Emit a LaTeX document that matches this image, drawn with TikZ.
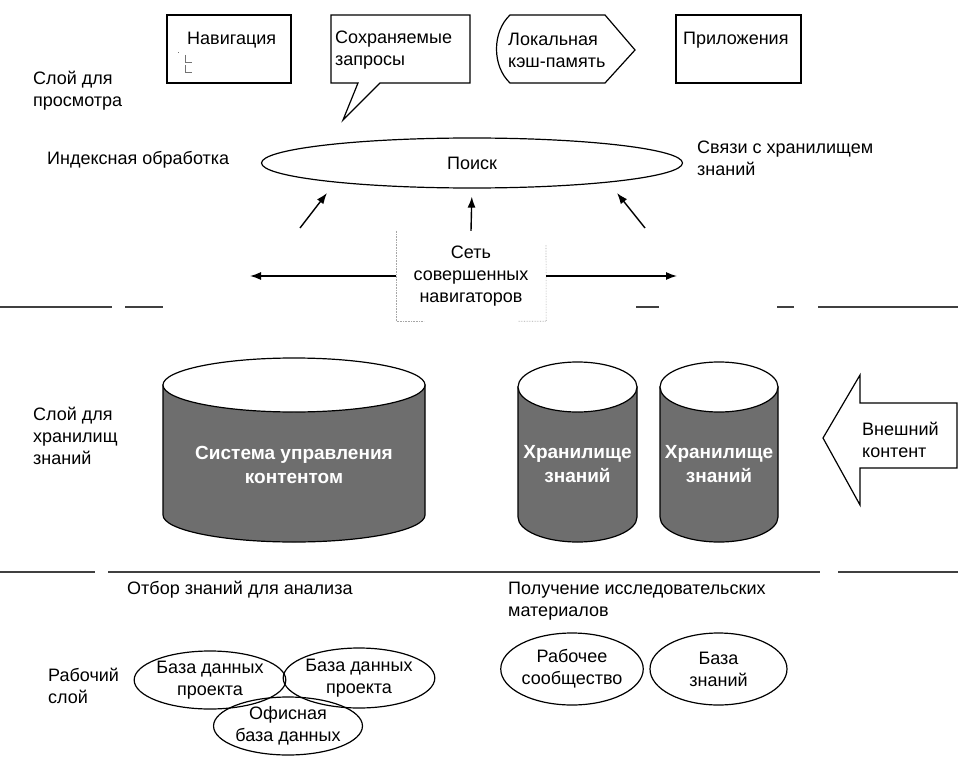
\documentclass[tikz,border=0pt]{standalone}
\usepackage{fontspec}
\setmainfont{Liberation Sans}
\usetikzlibrary{arrows.meta,shapes.geometric}
\definecolor{cylgray}{HTML}{6E6E6E}
\begin{document}
\begin{tikzpicture}[x=1pt,y=-1pt,
  lbl/.style={font=\fontsize{18}{22}\selectfont, inner sep=0pt, align=left, anchor=west},
  ctr/.style={font=\fontsize{18}{22}\selectfont, inner sep=0pt, align=center},
  shp/.style={draw=black, line width=1.2pt},
  arr/.style={line width=1.4pt, -{Latex[length=11pt,width=8pt]}},
  sep/.style={draw=black!75, line width=1.6pt},
  faint/.style={draw=black!35, line width=0.6pt, densely dotted},
  cyltxt/.style={font=\fontsize{19}{24}\selectfont\bfseries, text=white, align=center, inner sep=0pt},
  oval/.style={draw=black, line width=1.2pt, ellipse, inner sep=0pt, align=center, font=\fontsize{18}{22}\selectfont}
]
\useasboundingbox[fill=white] (0,0) rectangle (958,757);

% ---- top layer boxes
\node[shp, minimum width=124pt, minimum height=68pt, inner sep=0pt] (nav) at (229,49) {};
\node[lbl] (navt) at (187,40) {Навигация};
\draw[black!55, line width=0.5pt] (178,52) -- (179,52)
  (185,55) -- (185,62) -- (192,62) (185,65) -- (185,72) -- (192,72);

\draw[shp, line join=miter] (331,15) -- (470,15) -- (470,83) -- (380,83) -- (343,120) -- (358,83) -- (331,83) -- cycle;
\node[lbl] (savt) at (335,50) {Сохраняемые\\запросы};

\draw[shp] (510,15) -- (605,15) -- (635,50) -- (605,83) -- (510,83)
  .. controls (492,66) and (492,32) .. (510,15) -- cycle;
\node[lbl] (loct) at (508,50) {Локальная\\кэш-память};

\node[shp, minimum width=125pt, minimum height=68pt, inner sep=0pt] (app) at (738.5,49) {};
\node[lbl] (appt) at (683,40) {Приложения};

% ---- left/side labels
\node[lbl] (l1) at (33,91) {Слой для\\просмотра};
\node[lbl] (l2) at (47,160) {Индексная обработка};
\node[lbl] (l3) at (697,158) {Связи с хранилищем\\знаний};
\node[lbl] (l4) at (33,436) {Слой для\\хранилищ\\знаний};
\node[lbl] (l5) at (127,590) {Отбор знаний для анализа};
\node[lbl] (l6) at (508,601) {Получение исследовательских\\материалов};
\node[lbl] (l7) at (48,686) {Рабочий\\слой};

% ---- search
\node[shp, ellipse, minimum width=421pt, minimum height=50pt, inner sep=0pt,
  font=\fontsize{18}{22}\selectfont] (poisk) at (472,163) {Поиск};

\node[ctr, minimum width=150pt, minimum height=90pt] (net) at (471,276) {Сеть\\совершенных\\навигаторов};
\draw[faint] (net.north west) -- (net.south west) -- ++(28,0);
\draw[faint] (546,245) -- (net.south east) -- ++(-28,0);

\coordinate (u1s) at (300,228); \coordinate (u1e) at (327,193);
\coordinate (u3s) at (645,228); \coordinate (u3e) at (617,193);
\coordinate (hl) at (250,276); \coordinate (hr) at (677,276);
\draw[arr] (u1s) -- (u1e);
\draw[arr] (u3s) -- (u3e);
\draw[arr, shorten >=8pt] (net.north) -- (poisk.south);
\draw[arr] (net.west) -- (hl);
\draw[arr] (net.east) -- (hr);

% ---- separators
\draw[sep] (0,307) -- (112,307) (125,307) -- (163,307) (636,307) -- (659,307)
  (777,307) -- (794,307) (818,307) -- (958,307);
\draw[sep] (0,572) -- (95,572) (108,572) -- (820,572) (838,572) -- (958,572);

% ---- cylinders
\path[shp, fill=cylgray] (163,385) -- (163,515) arc[start angle=180, end angle=360, x radius=131pt, y radius=27pt] -- (425,385) -- cycle;
\path[shp, fill=white] (294,385) ellipse [x radius=131pt, y radius=27pt];
\node[cyltxt] (cms) at (294,465) {Система управления\\контентом};

\path[shp, fill=cylgray] (518,387) -- (518,517) arc[start angle=180, end angle=360, x radius=59.5pt, y radius=25pt] -- (637,387) -- cycle;
\path[shp, fill=white] (577.5,387) ellipse [x radius=59.5pt, y radius=25pt];
\node[cyltxt] (kr1) at (577.5,464) {Хранилище\\знаний};

\path[shp, fill=cylgray] (660,387) -- (660,517) arc[start angle=180, end angle=360, x radius=59pt, y radius=25pt] -- (778,387) -- cycle;
\path[shp, fill=white] (719,387) ellipse [x radius=59pt, y radius=25pt];
\node[cyltxt] (kr2) at (719,464) {Хранилище\\знаний};

% ---- external content arrow
\draw[shp, line join=miter] (823,438) -- (860,375) -- (860,403) -- (957,403) -- (957,468) -- (860,468) -- (860,505) -- cycle;
\node[lbl] (ext) at (862,440) {Внешний\\контент};

% ---- working layer ovals
\node[oval, minimum width=130pt, minimum height=58pt] (e1) at (210,680) {База данных\\проекта};
\node[oval, minimum width=148pt, minimum height=60pt] (e2) at (359,678) {База данных\\проекта};
\node[oval, minimum width=133pt, minimum height=58pt] (e3) at (288,726) {Офисная\\база данных};
\node[oval, minimum width=135pt, minimum height=72pt] (e4) at (572,669) {Рабочее\\сообщество};
\node[oval, minimum width=137pt, minimum height=72pt] (e5) at (718.5,669) {База\\знаний};
\end{tikzpicture}
\end{document}
